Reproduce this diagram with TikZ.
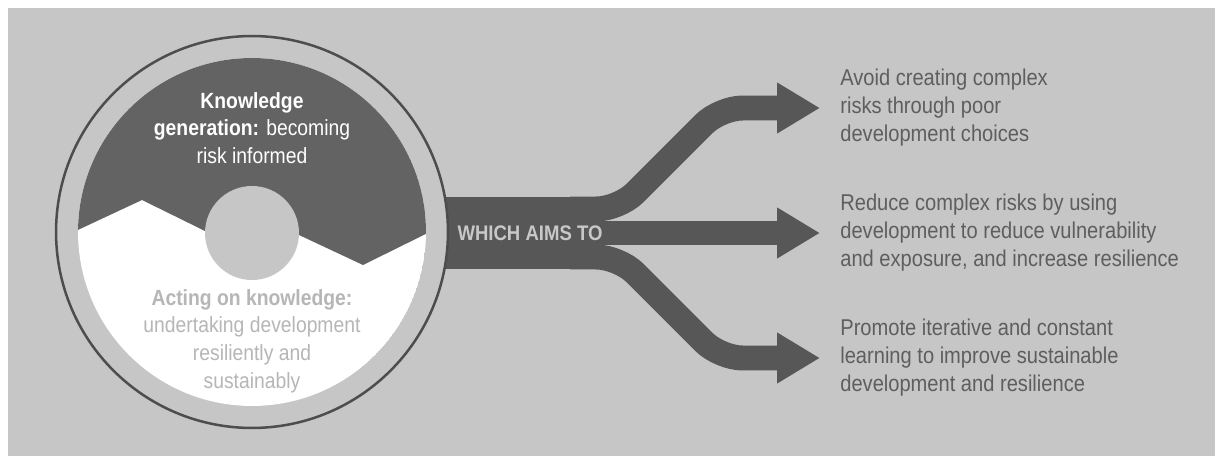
\documentclass[tikz,border=0pt]{standalone}
\usepackage{fontspec}
\setmainfont{Liberation Sans}[FakeStretch=0.88]
\usetikzlibrary{arrows.meta,positioning}
\definecolor{bggrey}{HTML}{C6C6C6}
\definecolor{rimdark}{HTML}{4D4D4D}
\definecolor{topdark}{HTML}{636363}
\definecolor{arrowdark}{HTML}{575757}
\definecolor{txtdark}{HTML}{5E5E5E}
\definecolor{txtpale}{HTML}{B6B6B6}
\definecolor{txtlight}{HTML}{C8C8C8}

\begin{document}
\begin{tikzpicture}[x=0.02cm,y=-0.02cm,
  node distance=0.4cm,
  aim/.style={align=left,text=txtdark,font=\fontsize{13}{15.9}\selectfont,inner sep=0pt},
  half/.style={align=center,font=\fontsize{12.5}{15.7}\selectfont,inner sep=0pt},
  ring/.style={circle,draw=rimdark,line width=0.05cm,fill=bggrey,minimum size=7.84cm,inner sep=0pt},
  hub/.style={circle,fill=bggrey,minimum size=1.88cm,inner sep=0pt},
  branch/.style={draw=arrowdark,line width=0.5cm,rounded corners=0.45cm,
    -{Triangle[length=0.86cm,width=0.96cm]}}]
  \useasboundingbox[fill=white] (0,0) rectangle (1215,456);
  \fill[bggrey] (8,8) rectangle (1215,456);
  % trunk of the arrow
  \fill[arrowdark] (420,197) rectangle (600,269);
  % the wheel
  \node[ring] (ring) at (252,232) {};
  \begin{scope}
    \clip (252,232) circle (3.48cm);
    \fill[white] (252,232) circle (3.48cm);
    \fill[topdark] (50,40) -- (50,243) -- (142,200) -- (205,231) -- (252,233)
      -- (299,235) -- (363,265) -- (450,222) -- (450,40) -- cycle;
  \end{scope}
  \node[hub] (hub) at (252,233) {};
  \node[half,text=white] (gen) at (252,128)
    {\textbf{Knowledge}\\\textbf{generation:} becoming\\risk informed};
  \node[half,text=txtpale] (act) at (252,341)
    {\textbf{Acting on knowledge:}\\undertaking development\\resiliently and\\sustainably};
  % branches
  \coordinate (f1) at (570,209); \coordinate (b1) at (619,209);
  \coordinate (c1) at (720,108); \coordinate (t1) at (820,108);
  \coordinate (f2) at (570,233); \coordinate (t2) at (820,233);
  \coordinate (f3) at (570,257); \coordinate (b3) at (619,257);
  \coordinate (c3) at (720,358); \coordinate (t3) at (820,358);
  \draw[branch] (f1) -- (b1) -- (c1) -- (t1);
  \draw[branch] (f2) -- (t2);
  \draw[branch] (f3) -- (b3) -- (c3) -- (t3);
  \node[half,text=txtlight,font=\fontsize{12}{15}\selectfont\bfseries] (which) at (530,233) {WHICH AIMS TO};
  \node[aim,right=of t1] (avoid) {Avoid creating complex\\risks through poor\\development choices};
  \node[aim,right=of t2] (reduce) {Reduce complex risks by using\\development to reduce vulnerability\\and exposure, and increase resilience};
  \node[aim,right=of t3] (promote) {Promote iterative and constant\\learning to improve sustainable\\development and resilience};
\end{tikzpicture}
\end{document}
